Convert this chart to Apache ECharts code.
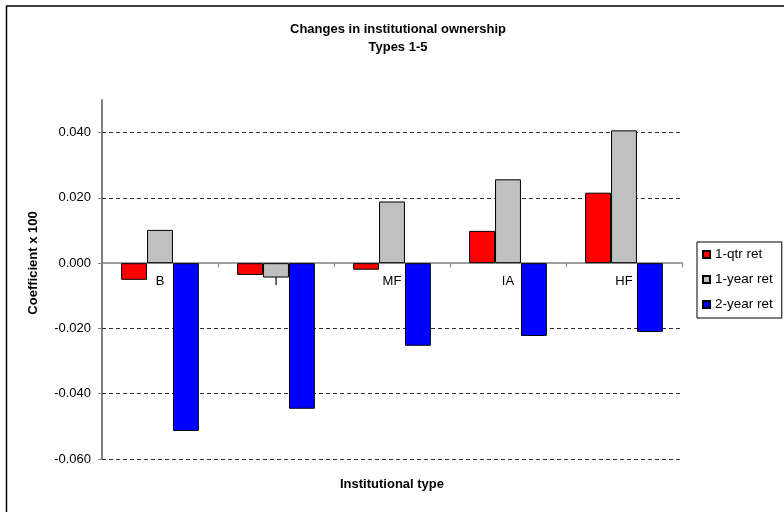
<!DOCTYPE html>
<html>
<head>
<meta charset="utf-8">
<script src="https://cdn.jsdelivr.net/npm/echarts@6/dist/echarts.min.js"></script>
<style>
  html, body { margin: 0; padding: 0; background: #fff; }
  #chart { width: 784px; height: 512px; }
</style>
</head>
<body>
<div id="chart"></div>
<script>
// Institutional types on the x axis
const categories = ['B', 'I', 'MF', 'IA', 'HF'];

// Regression coefficients (x 100) per return horizon
const qtrRet = [-0.0051, -0.0036, -0.0020, 0.0099, 0.0216];
const yearRet = [0.0102, -0.0044, 0.0189, 0.0257, 0.0407];
const twoYearRet = [-0.0514, -0.0446, -0.0253, -0.0223, -0.0211];

const seriesNames = ['1-qtr ret', '1-year ret', '2-year ret'];

// Labelled y values (gridlines and tick labels)
const yTicks = [-0.06, -0.04, -0.02, 0, 0.02, 0.04];
const yMin = -0.06;
const yMax = 0.05;

const FONT = 'Arial, "Liberation Sans", sans-serif';

const gridTop = 100;
const gridHeight = 359;
// the category axis sits on the zero line: shift it up from the bottom edge
const zeroOffset = -((0 - yMin) / (yMax - yMin)) * gridHeight;

const chart = echarts.init(document.getElementById('chart'), null, { renderer: 'canvas' });

const barStyle = (color) => ({ color: color, borderColor: '#000', borderWidth: 1 });

chart.setOption({
  animation: false,
  backgroundColor: '#fff',
  textStyle: { fontFamily: FONT },
  grid: { left: 102, top: gridTop, width: 580, height: gridHeight, containLabel: false },
  legend: {
    orient: 'vertical',
    left: 697,
    top: 242,
    data: seriesNames,
    icon: 'rect',
    itemWidth: 7,
    itemHeight: 7,
    itemGap: 10,
    padding: [5, 9, 6, 5],
    borderColor: '#000',
    borderWidth: 1,
    textStyle: { fontFamily: FONT, fontSize: 13.5, color: '#000', lineHeight: 15 }
  },
  xAxis: {
    type: 'category',
    data: categories,
    position: 'bottom',
    offset: zeroOffset,
    axisLine: { onZero: false, lineStyle: { color: '#808080', width: 1.5 } },
    axisTick: { show: true, length: 4, lineStyle: { color: '#808080' } },
    axisLabel: { fontFamily: FONT, fontSize: 13, color: '#000', margin: 12 },
    splitLine: { show: false }
  },
  yAxis: {
    type: 'value',
    min: yMin,
    max: yMax,
    interval: 0.02,
    axisLine: { show: true, lineStyle: { color: '#808080', width: 2 } },
    axisTick: { show: true, length: 4, customValues: yTicks, lineStyle: { color: '#808080' } },
    axisLabel: {
      customValues: yTicks,
      fontFamily: FONT, fontSize: 13, color: '#000', margin: 11,
      formatter: (v) => v.toFixed(3)
    },
    splitLine: { show: false }
  },
  graphic: [
    { type: 'rect', shape: { x: 6.5, y: 6, width: 800, height: 520 },
      style: { fill: 'none', stroke: '#000', lineWidth: 1.5 }, silent: true, z: 0 },
    { type: 'text', x: 398, y: 29,
      style: { text: 'Changes in institutional ownership', font: 'bold 13px ' + FONT,
               fill: '#000', textAlign: 'center', textVerticalAlign: 'middle' } },
    { type: 'text', x: 398, y: 47,
      style: { text: 'Types 1-5', font: 'bold 13px ' + FONT,
               fill: '#000', textAlign: 'center', textVerticalAlign: 'middle' } },
    { type: 'text', x: 392, y: 484,
      style: { text: 'Institutional type', font: 'bold 13px ' + FONT,
               fill: '#000', textAlign: 'center', textVerticalAlign: 'middle' } },
    { type: 'text', x: 33, y: 263, rotation: Math.PI / 2,
      style: { text: 'Coefficient x 100', font: 'bold 13px ' + FONT,
               fill: '#000', textAlign: 'center', textVerticalAlign: 'middle' } }
  ],
  series: [
    {
      // dashed horizontal gridlines, kept beneath the bars
      name: 'grid',
      type: 'line',
      data: [],
      z: 1,
      silent: true,
      markLine: {
        z: 1,
        silent: true,
        symbol: ['none', 'none'],
        label: { show: false },
        lineStyle: { color: '#333', width: 1, type: [4, 3] },
        data: yTicks.filter(v => v !== 0).map(v => ({ yAxis: v }))
      }
    },
    { name: seriesNames[0], type: 'bar', data: qtrRet, itemStyle: barStyle('#ff0000'),
      barGap: '0%', barCategoryGap: '33%', z: 2 },
    { name: seriesNames[1], type: 'bar', data: yearRet, itemStyle: barStyle('#c0c0c0'),
      barGap: '0%', barCategoryGap: '33%', z: 2 },
    { name: seriesNames[2], type: 'bar', data: twoYearRet, itemStyle: barStyle('#0000ff'),
      barGap: '0%', barCategoryGap: '33%', z: 2 }
  ]
});
</script>
</body>
</html>
